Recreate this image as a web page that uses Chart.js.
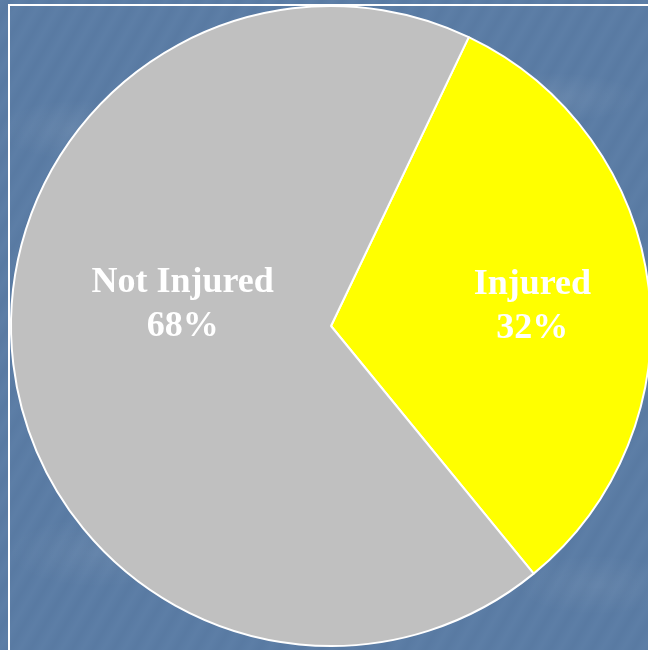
<!DOCTYPE html>
<html>
<head>
<meta charset="utf-8">
<script src="https://cdn.jsdelivr.net/npm/chart.js@4"></script>
<style>
  html, body { margin:0; padding:0; width:648px; height:650px; overflow:hidden; }
  body {
    position:relative;
    background-color:#5a7ca5;
    background-image:
      radial-gradient(ellipse 80px 30px at 12% 20%, rgba(255,255,255,0.07), rgba(255,255,255,0) 100%),
      radial-gradient(ellipse 90px 25px at 85% 15%, rgba(255,255,255,0.08), rgba(255,255,255,0) 100%),
      radial-gradient(ellipse 70px 30px at 90% 60%, rgba(255,255,255,0.06), rgba(255,255,255,0) 100%),
      radial-gradient(ellipse 90px 35px at 15% 85%, rgba(255,255,255,0.06), rgba(255,255,255,0) 100%),
      radial-gradient(ellipse 80px 30px at 92% 90%, rgba(255,255,255,0.06), rgba(255,255,255,0) 100%),
      repeating-linear-gradient(120deg, rgba(255,255,255,0.015) 0px, rgba(0,0,0,0.015) 9px, rgba(255,255,255,0.015) 18px);
  }
  #frame { position:absolute; left:8px; top:4px; width:700px; height:700px; border:2px solid #fff; box-sizing:border-box; }
  #c { position:absolute; left:0; top:0; }
</style>
</head>
<body>
<div id="frame"></div>
<canvas id="c" width="662" height="662"></canvas>
<script>
const categories = ['Injured', 'Not Injured'];
const values = [32, 68];
const sliceColors = ['#ffff00', '#c0c0c0'];

// label placement style: angle offset (deg) from slice mid-angle, radius fraction
const labelStyle = [
  { angleOffset: 4.0, radiusFrac: 0.63 },
  { angleOffset: 11.4, radiusFrac: 0.465 }
];

const labelPlugin = {
  id: 'sliceLabels',
  afterDatasetsDraw(chart) {
    const ctx = chart.ctx;
    const meta = chart.getDatasetMeta(0);
    const total = values.reduce((a, b) => a + b, 0);
    ctx.save();
    ctx.fillStyle = '#ffffff';
    ctx.font = 'bold 36px "Liberation Serif", "Times New Roman", serif';
    ctx.textAlign = 'center';
    ctx.textBaseline = 'alphabetic';
    meta.data.forEach((arc, i) => {
      const p = arc.getProps(['x', 'y', 'startAngle', 'endAngle', 'outerRadius'], true);
      const mid = (p.startAngle + p.endAngle) / 2 + labelStyle[i].angleOffset * Math.PI / 180;
      const r = p.outerRadius * labelStyle[i].radiusFrac;
      const x = p.x + Math.cos(mid) * r;
      const y = p.y + Math.sin(mid) * r;
      const pct = Math.round(values[i] / total * 100) + '%';
      ctx.fillText(categories[i], x, y - 22);
      ctx.fillText(pct, x, y + 22);
    });
    ctx.restore();
  }
};

new Chart(document.getElementById('c'), {
  type: 'pie',
  data: {
    labels: categories,
    datasets: [{
      data: values,
      backgroundColor: sliceColors,
      borderColor: '#ffffff',
      borderWidth: 2
    }]
  },
  options: {
    responsive: false,
    animation: false,
    rotation: 25.5,
    layout: { padding: { left: 10, top: 5, right: 10, bottom: 15 } },
    plugins: {
      legend: { display: false },
      tooltip: { enabled: false }
    }
  },
  plugins: [labelPlugin]
});
</script>
</body>
</html>
